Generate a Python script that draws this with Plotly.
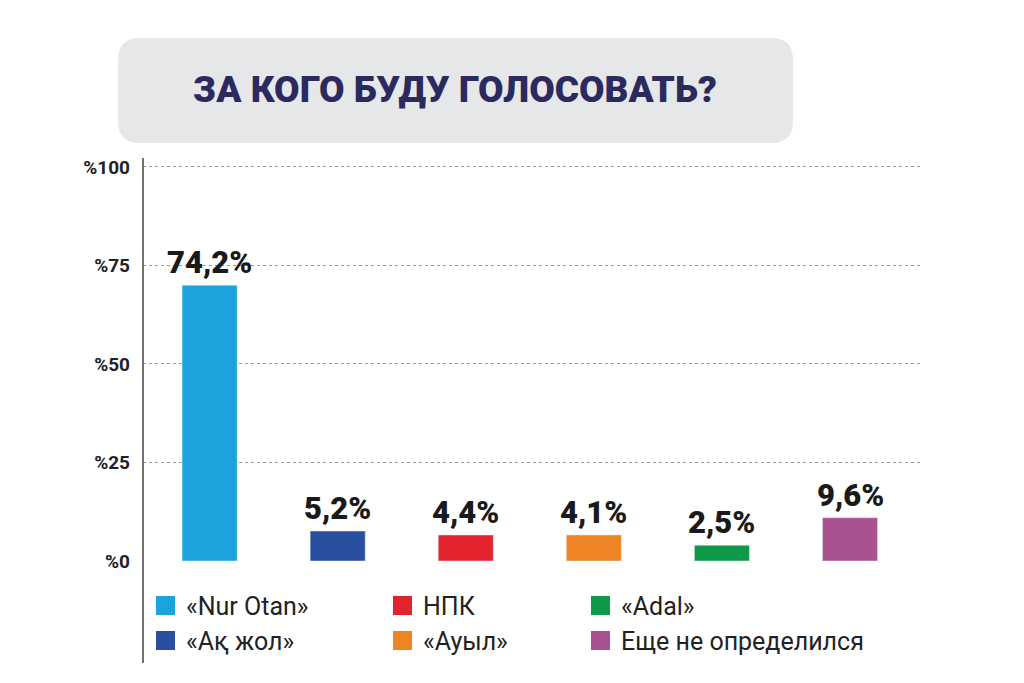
import plotly.graph_objects as go

parties = ["«Nur Otan»", "«Aқ жол»", "НПК", "«Ауыл»", "«Adal»", "Еще не определился"]
bar_heights = [70, 7.6, 6.6, 6.6, 4.0, 11.0]   # heights as drawn in the picture
labels = ["74,2%", "5,2%", "4,4%", "4,1%", "2,5%", "9,6%"]
colors = ["#1ba3dd", "#2a4f9e", "#e3232d", "#ee8423", "#0f9a4a", "#a8528f"]
yticks = [0, 25, 50, 75, 100]
ytick_text = ["%0", "%25", "%50", "%75", "%100"]

W = 780; H = 396
def px(x): return (x - 135) / W
def py(y): return (553 - y) / H

fig = go.Figure()
leg_cols = [148, 385, 583]
leg_rows = [598, 633]
for i, p in enumerate(parties):
    fig.add_trace(go.Bar(x=[i], y=[bar_heights[i]], name=p, marker_color=colors[i],
                         width=0.43, showlegend=False))
    fig.add_annotation(x=i, y=bar_heights[i], text=labels[i], showarrow=False,
                       yanchor="bottom", yshift=2,
                       font=dict(size=31, color="#1a1a1a", family="Roboto", weight=900))
    cx = leg_cols[i // 2]; cy = leg_rows[i % 2]
    fig.add_shape(type="rect", xref="paper", yref="paper",
                  x0=px(cx), x1=px(cx + 19), y0=py(cy + 9), y1=py(cy - 10),
                  fillcolor=colors[i], line_width=0)
    fig.add_annotation(text=p, xref="paper", yref="paper", x=px(cx + 28), y=py(cy),
                       xanchor="left", yanchor="middle", showarrow=False,
                       font=dict(size=25, color="#222", family="Roboto"))

x0, x1, y0, y1 = px(110), px(785), py(135), py(30)
rx, ry = 22 / W, 22 / H
path = (f"M {x0+rx},{y0} L {x1-rx},{y0} Q {x1},{y0} {x1},{y0+ry} L {x1},{y1-ry} Q {x1},{y1} {x1-rx},{y1} "
        f"L {x0+rx},{y1} Q {x0},{y1} {x0},{y1-ry} L {x0},{y0+ry} Q {x0},{y0} {x0+rx},{y0} Z")
fig.add_shape(type="path", path=path, xref="paper", yref="paper", fillcolor="#e6e7e8", line_width=0, layer="below")
fig.add_shape(type="line", xref="paper", yref="paper", x0=0, x1=0, y0=py(655), y1=py(150),
              line=dict(color="#444", width=1.5))
fig.add_annotation(text="ЗА КОГО БУДУ ГОЛОСОВАТЬ?", xref="paper", yref="paper",
                   x=px(447), y=py(82), yanchor="middle", xanchor="center", showarrow=False,
                   font=dict(size=37, color="#2b2a5e", family="Roboto", weight=900))

fig.update_layout(
    width=1024, height=683, margin=dict(l=135, r=109, t=157, b=130),
    plot_bgcolor="white", paper_bgcolor="white", showlegend=False,
    xaxis=dict(range=[-0.52, 5.57], showticklabels=False, showgrid=False, zeroline=False),
    yaxis=dict(range=[0, 100.5], tickvals=yticks, ticktext=ytick_text, showgrid=True,
               gridcolor="#999", griddash="dot", zeroline=False, ticklabelstandoff=12,
               tickfont=dict(size=19, color="#222", family="Roboto", weight=700)),
)
fig.write_html("out.html")
